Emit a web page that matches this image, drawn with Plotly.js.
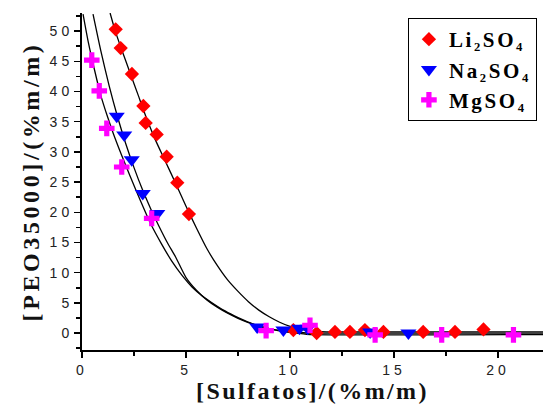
<!DOCTYPE html>
<html><head><meta charset="utf-8">
<script src="https://cdn.plot.ly/plotly-3.0.1.min.js"></script>
<style>
body{margin:0;background:#fff}
#chart{width:543px;height:413px}
.xtitle{letter-spacing:2.4px}
.ytitle{letter-spacing:3.6px}
.xtick text,.ytick text{letter-spacing:4px}
.legendtext{letter-spacing:2.6px}
</style></head><body><div id="chart"></div>
<script>
// Measured points
var liX = [1.62, 1.86, 2.40, 2.95, 3.06, 3.59, 4.07, 4.58, 5.14, 10.16, 11.28, 12.16, 12.88, 13.6, 14.49, 16.4, 17.93, 19.3];
var liY = [50.3, 47.2, 42.9, 37.6, 34.8, 32.9, 29.2, 24.9, 19.7, 0.5, 0.0, 0.2, 0.2, 0.5, 0.2, 0.2, 0.2, 0.6];
var naX = [1.67, 2.03, 2.39, 2.92, 3.62, 8.42, 9.68, 10.45, 10.85, 13.85, 15.69];
var naY = [35.9, 32.8, 28.7, 23.1, 19.8, 1.0, 0.5, 0.8, 0.8, 0.2, 0.0];
var mgX = [0.47, 0.83, 1.19, 1.91, 3.35, 8.85, 10.96, 14.09, 17.29, 20.74];
var mgY = [45.2, 40.1, 33.9, 27.5, 19.0, 0.4, 1.3, -0.3, -0.3, -0.3];

// Fitted curves
var liCurveX = [1.35,1.6,1.9,2.3,2.7,3.1,3.5,4.0,4.5,5.0,5.5,6.0,6.5,7.0,7.5,8.0,8.5,9.0,9.5,10.0,10.5,11.0,11.5,12.0,22.2];
var liCurveY = [53.0,50.0,47.0,43.2,39.4,35.6,32.2,28.5,24.8,21.0,17.4,14.0,11.2,8.8,6.9,5.2,3.8,2.7,1.8,1.1,0.6,0.35,0.25,0.2,0.2];
var naCurveX = [0.53,0.9,1.3,1.7,2.1,2.5,2.9,3.3,3.7,4.1,4.5,5.0,5.5,6.0,6.5,7.0,7.5,8.0,8.5,9.0,9.5,10.0,10.5,11.0,22.2];
var naCurveY = [52.8,46.8,41.0,35.9,31.4,27.4,23.8,20.6,17.7,15.0,12.6,9.2,7.1,5.5,4.3,3.3,2.45,1.75,1.2,0.75,0.45,0.25,0.1,0.0,0.0];
var mgCurveX = [0.05,0.3,0.6,0.9,1.2,1.5,1.9,2.3,2.8,3.3,3.8,4.3,4.8,5.3,5.8,6.3,6.8,7.3,7.8,8.3,8.8,9.3,9.8,10.3,10.8,22.2];
var mgCurveY = [52.8,48.2,43.6,39.4,36.1,33.1,29.5,26.1,22.0,18.1,14.9,12.0,9.6,7.6,6.1,4.9,3.8,2.9,2.1,1.4,0.9,0.5,0.2,0.0,-0.2,-0.25];

var names = ['Li\u2082SO\u2084', 'Na\u2082SO\u2084', 'MgSO\u2084'];
var xTitle = '\u00a0\u00a0\u00a0[Sulfatos]/(%m/m)';
var yTitle = '[PEO35000]/(%m/m)\u00a0\u2009';

function curve(x, y) {
  return {x: x, y: y, mode: 'lines', type: 'scatter', showlegend: false, hoverinfo: 'skip',
    line: {color: '#000', width: 1.3, shape: 'spline', smoothing: 0.6}};
}
var traces = [
  curve(liCurveX, liCurveY), curve(naCurveX, naCurveY), curve(mgCurveX, mgCurveY),
  {x: liX, y: liY, name: names[0], mode: 'markers', type: 'scatter',
    marker: {symbol: 'diamond', size: 11, color: '#ff0000'}},
  {x: naX, y: naY, name: names[1], mode: 'markers', type: 'scatter',
    marker: {symbol: 'triangle-down', size: 14, color: '#0000ff'}},
  {x: mgX, y: mgY, name: names[2], mode: 'markers', type: 'scatter',
    marker: {symbol: 'cross', size: 13, color: '#ff00ff'}}
];

var tickFont = {family: 'Liberation Sans, Arial, sans-serif', size: 14, color: '#222'};
var titleFont = {family: 'Liberation Serif, Times New Roman, serif', size: 24, color: '#111', weight: 'bold'};

var layout = {
  width: 543, height: 413,
  margin: {l: 82, r: 0, t: 13, b: 63, pad: 0},
  paper_bgcolor: '#fff', plot_bgcolor: '#fff',
  showlegend: true,
  legend: {x: 0.707, y: 0.985, xanchor: 'left', yanchor: 'top', bgcolor: '#fff',
    bordercolor: '#000', borderwidth: 1, tracegroupgap: 0, itemwidth: 30,
    font: {family: 'Liberation Serif, serif', size: 21, color: '#000', weight: 'bold'}},
  xaxis: {range: [0, 22.16], dtick: 5, tick0: 0, ticks: 'outside', ticklen: 6, tickwidth: 1.5,
    tickcolor: '#000', showline: true, linecolor: '#000', linewidth: 2, zeroline: false,
    showgrid: false, tickfont: tickFont,
    minor: {dtick: 2.5, ticks: 'outside', ticklen: 4, tickwidth: 1.5, tickcolor: '#000', showgrid: false},
    title: {text: xTitle, font: titleFont, standoff: 4}},
  yaxis: {range: [-2.8, 53.0], dtick: 5, tick0: 0, ticks: 'outside', ticklen: 6, tickwidth: 1.5,
    tickcolor: '#000', showline: true, linecolor: '#000', linewidth: 2, zeroline: false,
    showgrid: false, tickfont: tickFont, ticklabelstandoff: -2,
    minor: {dtick: 2.5, ticks: 'outside', ticklen: 4, tickwidth: 1.5, tickcolor: '#000', showgrid: false},
    title: {text: yTitle, font: titleFont, standoff: 3}}
};

Plotly.newPlot('chart', traces, layout, {displayModeBar: false, staticPlot: true});
</script></body></html>
